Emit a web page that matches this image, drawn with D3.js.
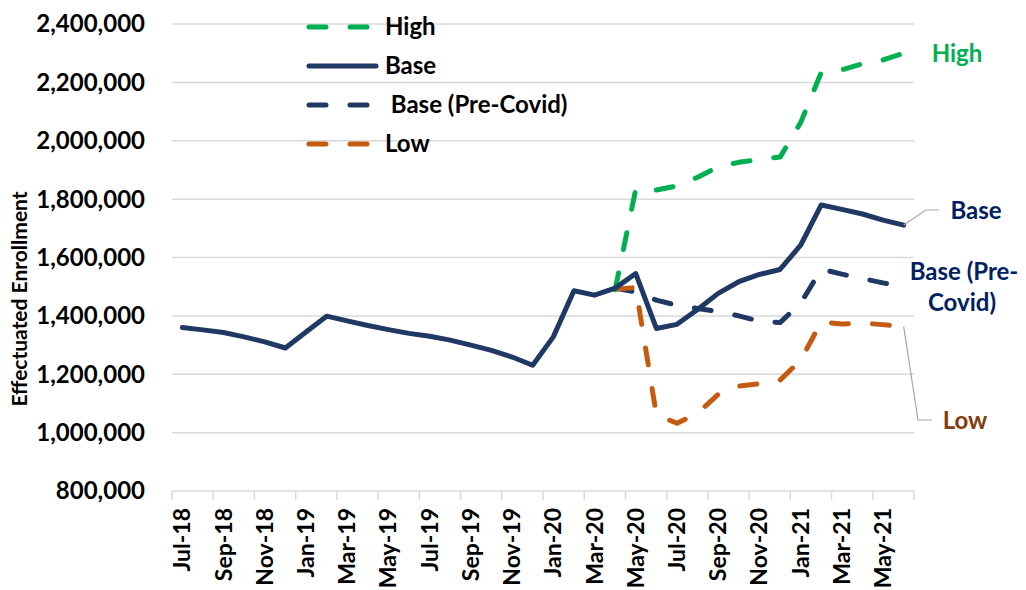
<!DOCTYPE html>
<meta charset="utf-8">
<style>
body { margin: 0; background: #fff; }
text { font-family: Lato, "Open Sans", sans-serif; font-weight: bold; }
.grid line { stroke: #d9d9d9; stroke-width: 1.5px; }
.series { fill: none; stroke-width: 5px; stroke-linecap: round; stroke-linejoin: round; }
</style>
<svg width="1026" height="590"></svg>
<script src="https://d3js.org/d3.v7.min.js"></script>
<script>

var months = ["Jul-18","Aug-18","Sep-18","Oct-18","Nov-18","Dec-18",
  "Jan-19","Feb-19","Mar-19","Apr-19","May-19","Jun-19",
  "Jul-19","Aug-19","Sep-19","Oct-19","Nov-19","Dec-19",
  "Jan-20","Feb-20","Mar-20","Apr-20","May-20","Jun-20",
  "Jul-20","Aug-20","Sep-20","Oct-20","Nov-20","Dec-20",
  "Jan-21","Feb-21","Mar-21","Apr-21","May-21","Jun-21"];

var base = [1360000,1352000,1343000,1328000,1311000,1290000,
  1345000,1399000,1383000,1367000,1353000,1340000,
  1330000,1317000,1300000,1282000,1259000,1231000,
  1328000,1486000,1471000,1495000,1545000,1357000,
  1371000,1422000,1477000,1517000,1542000,1559000,
  1642000,1780000,1765000,1749000,1728000,1711000];

// scenarios start at Apr-20
var scenarioStart = "Apr-20";
var high = [1490000,1834000,1831000,1845000,1875000,1911000,1926000,1936000,1944000,
  2062000,2234000,2243000,2264000,2277000,2300000];
var preCovid = [1495000,1482000,1454000,1436000,1425000,1415000,1400000,1382000,1377000,
  1443000,1560000,1543000,1528000,1513000,1500000];
var low = [1491000,1497000,1061000,1032000,1066000,1131000,1159000,1168000,1180000,
  1248000,1379000,1372000,1375000,1370000,1363000];

var yTicks = [800000,1000000,1200000,1400000,1600000,1800000,2000000,2200000,2400000];
var xTickLabels = months.filter(function(d, i) { return i % 2 == 0; });

var svg = d3.select("svg");

var x = d3.scaleBand().domain(months).range([172, 914]).padding(0);
var y = d3.scaleLinear().domain([800000, 2400000]).range([491, 24]);
var cx = function(m) { return x(m) + x.bandwidth() / 2; };

// gridlines
svg.append("g").attr("class", "grid")
  .selectAll("line").data(yTicks).enter().append("line")
    .attr("x1", 172).attr("x2", 914)
    .attr("y1", function(d) { return y(d); })
    .attr("y2", function(d) { return y(d); });

// x ticks every 2 months
var tickPos = months.filter(function(d, i) { return i % 2 == 0; }).map(function(m) { return x(m); });
tickPos.push(914);
svg.append("g").attr("class", "grid")
  .selectAll("line").data(tickPos).enter().append("line")
    .attr("x1", function(d) { return d; }).attr("x2", function(d) { return d; })
    .attr("y1", 491).attr("y2", 500);

// y labels
svg.append("g").selectAll("text").data(yTicks).enter().append("text")
  .attr("x", 145).attr("y", function(d) { return y(d); })
  .attr("dy", "0.35em").attr("text-anchor", "end")
  .style("font-size", "24px")
  .text(function(d) { return d3.format(",")(d); });

// x labels
svg.append("g").selectAll("text").data(xTickLabels).enter().append("text")
  .attr("transform", function(d) { return "translate(" + cx(d) + ",508) rotate(-90)"; })
  .attr("dy", "0.35em").attr("text-anchor", "end")
  .style("font-size", "23px")
  .text(function(d) { return d; });

svg.append("text")
  .attr("transform", "translate(20,299) rotate(-90)")
  .attr("dy", "0.35em").attr("text-anchor", "middle")
  .style("font-size", "21px")
  .text("Effectuated Enrollment");

var line = d3.line()
  .x(function(d) { return cx(d.m); })
  .y(function(d) { return y(d.v); });

var s0 = months.indexOf(scenarioStart);
function scen(vals) { return vals.map(function(v, i) { return {m: months[s0 + i], v: v}; }); }

var dash = "17,24";
var series = [
  {name: "Base (Pre-Covid)", data: scen(preCovid), color: "#1F3864", dash: dash},
  {name: "Low", data: scen(low), color: "#C55A11", dash: dash},
  {name: "High", data: scen(high), color: "#00B050", dash: dash},
  {name: "Base", data: base.map(function(v, i) { return {m: months[i], v: v}; }), color: "#1F3864", dash: null}
];

svg.append("g").selectAll("path").data(series).enter().append("path")
  .attr("class", "series")
  .attr("stroke", function(d) { return d.color; })
  .attr("stroke-dasharray", function(d) { return d.dash; })
  .attr("d", function(d) { return line(d.data); });

// legend
var legend = [
  {name: "High", color: "#00B050", dash: dash},
  {name: "Base", color: "#1F3864", dash: null},
  {name: " Base (Pre-Covid)", color: "#1F3864", dash: dash},
  {name: "Low", color: "#C55A11", dash: dash}
];
var lg = svg.append("g").selectAll("g").data(legend).enter().append("g")
  .attr("transform", function(d, i) { return "translate(0," + (27 + i * 39) + ")"; });
lg.append("line")
  .attr("x1", 309).attr("x2", 376)
  .attr("stroke", function(d) { return d.color; })
  .attr("stroke-width", 5).attr("stroke-linecap", "round")
  .attr("stroke-dasharray", function(d) { return d.dash; });
lg.append("text")
  .attr("x", 385).attr("dy", "0.35em")
  .style("font-size", "24px").style("white-space", "pre")
  .attr("xml:space", "preserve")
  .text(function(d) { return d.name; });

// end labels
var last = months[months.length - 1];
var lx = cx(last);
svg.append("path").attr("fill", "none").attr("stroke", "#a6a6a6").attr("stroke-width", 1.2)
  .attr("d", "M" + lx + "," + y(base[base.length - 1]) + "L926,210L939,210");
svg.append("path").attr("fill", "none").attr("stroke", "#a6a6a6").attr("stroke-width", 1.2)
  .attr("d", "M" + lx + "," + y(low[low.length - 1]) + "L918,420L932,420");

var endLabels = [
  {t: "High", x: 957, y: 54, c: "#00B050"},
  {t: "Base", x: 976, y: 211, c: "#002060"},
  {t: "Base (Pre-", x: 964, y: 272, c: "#002060"},
  {t: "Covid)", x: 962, y: 303, c: "#002060"},
  {t: "Low", x: 965, y: 421, c: "#843C0C"}
];
svg.append("g").selectAll("text").data(endLabels).enter().append("text")
  .attr("x", function(d) { return d.x; }).attr("y", function(d) { return d.y; })
  .attr("dy", "0.35em").attr("text-anchor", "middle")
  .attr("fill", function(d) { return d.c; })
  .style("font-size", "24px")
  .text(function(d) { return d.t; });

</script>
